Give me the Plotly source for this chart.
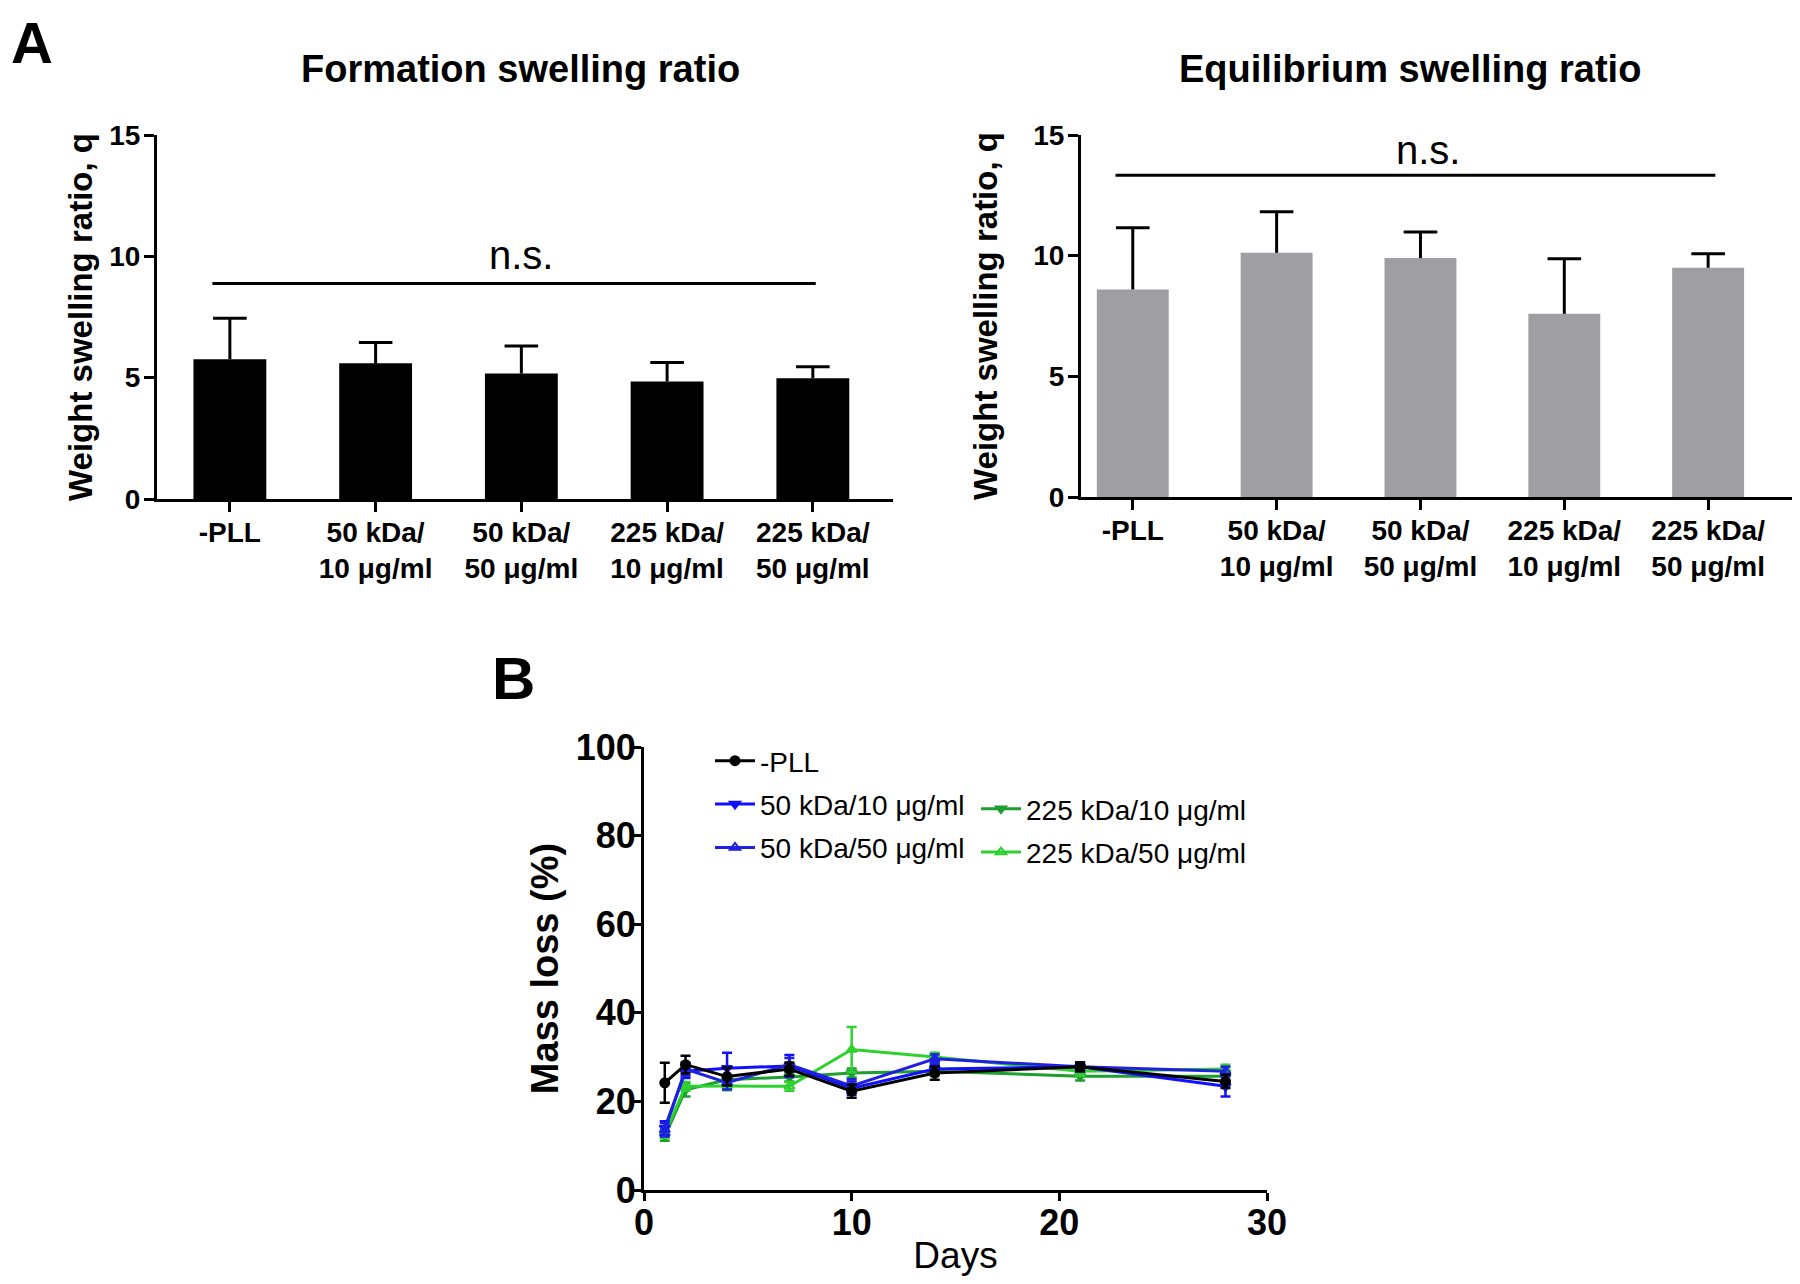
import plotly.graph_objects as go

# ---------------- data ----------------
categories = ["-PLL", "50 kDa/<br>10 μg/ml", "50 kDa/<br>50 μg/ml", "225 kDa/<br>10 μg/ml", "225 kDa/<br>50 μg/ml"]
formation_mean = [5.76, 5.59, 5.17, 4.84, 4.98]
formation_err = [1.69, 0.86, 1.13, 0.79, 0.47]
equilibrium_mean = [8.60, 10.12, 9.90, 7.59, 9.50]
equilibrium_err = [2.56, 1.70, 1.08, 2.28, 0.58]

days = [1, 2, 4, 7, 10, 14, 21, 28]
series_names = ["-PLL", "50 kDa/10 μg/ml", "50 kDa/50 μg/ml", "225 kDa/10 μg/ml", "225 kDa/50 μg/ml"]
mass_pll = [24.2, 28.3, 25.6, 27.3, 22.3, 26.4, 27.8, 24.5]
mass_50_10 = [14.0, 26.8, 27.5, 28.0, 23.0, 27.3, 27.8, 23.4]
mass_50_50 = [13.6, 27.3, 24.2, 28.3, 23.5, 29.6, 27.8, 26.8]
mass_225_10 = [12.1, 22.6, 24.9, 25.5, 26.4, 26.8, 25.7, 25.7]
mass_225_50 = [12.8, 23.4, 23.5, 23.4, 31.7, 30.0, 26.8, 27.3]
err_pll = [4.5, 2.0, 2.0, 1.5, 1.5, 1.5, 1.0, 1.5]
err_50_10 = [1.5, 1.5, 3.5, 2.5, 1.5, 1.0, 1.0, 2.3]
err_50_50 = [1.5, 1.5, 1.5, 1.5, 1.5, 1.0, 1.0, 1.0]
err_225_10 = [1.0, 1.5, 1.0, 1.0, 1.0, 1.0, 1.0, 1.0]
err_225_50 = [1.0, 1.0, 1.0, 1.0, 5.1, 1.0, 1.0, 1.0]

FONT = "Liberation Sans, Arial, sans-serif"
W, H = 1800, 1284
OFF = 8  # page body margin offset of the plot in the browser window


def px_x(p):
    return (p - OFF) / W


def px_y(p):
    return 1 - (p - OFF) / H


fig = go.Figure()


# ---------------- bar charts ----------------
def add_bar_panel(means, errs, color, xa, ya):
    fig.add_trace(go.Bar(
        x=categories, y=means, width=0.5,
        marker=dict(color=color, line=dict(width=0)),
        error_y=dict(type="data", array=errs, arrayminus=[0] * len(errs), symmetric=False,
                     color="#000000", thickness=3, width=0),
        xaxis=xa, yaxis=ya, showlegend=False, hoverinfo="y"))
    # caps of the (upper-only) error bars
    tops = [m + e for m, e in zip(means, errs)]
    fig.add_trace(go.Scatter(
        x=categories, y=tops, mode="markers",
        marker=dict(symbol="line-ew", size=24, color="#000", line=dict(color="#000", width=3)),
        xaxis=xa, yaxis=ya, showlegend=False, hoverinfo="skip"))


add_bar_panel(formation_mean, formation_err, "#000000", "x", "y")
add_bar_panel(equilibrium_mean, equilibrium_err, "#9e9ea3", "x2", "y2")

# ---------------- line chart ----------------
line_series = [
    (series_names[3], mass_225_10, err_225_10, "#1e9e2e", "triangle-down", 4, "legend2"),
    (series_names[4], mass_225_50, err_225_50, "#2ed12e", "triangle-up-open", 5, "legend2"),
    (series_names[1], mass_50_10, err_50_10, "#1010ff", "triangle-down", 2, "legend"),
    (series_names[2], mass_50_50, err_50_50, "#2020e0", "triangle-up-open", 3, "legend"),
    (series_names[0], mass_pll, err_pll, "#000000", "circle", 1, "legend"),
]
for name, vals, errs, col, sym, rank, lg in line_series:
    fig.add_trace(go.Scatter(
        x=days, y=vals, name=name, mode="lines+markers",
        line=dict(color=col, width=3),
        marker=dict(color=col, symbol=sym, size=9, line=dict(color=col, width=2)),
        error_y=dict(type="data", array=errs, color=col, thickness=2.5, width=5),
        xaxis="x3", yaxis="y3", legend=lg, legendrank=rank, legendgroup=name))

# ---------------- axes ----------------
line_common = dict(showline=True, linewidth=3, linecolor="#000", showgrid=False,
                   zeroline=False, mirror=False, ticks="outside", tickwidth=3, tickcolor="#000")

bar_x_font = dict(family=FONT, size=28, color="#000", weight="bold")
bar_y_font = dict(family=FONT, size=28, color="#000", weight="bold")
ytitle_font = dict(family=FONT, size=33, color="#000", weight="bold")

fig.update_layout(
    width=W, height=H,
    margin=dict(l=0, r=0, t=0, b=0, autoexpand=False),
    paper_bgcolor="#ffffff", plot_bgcolor="#ffffff",
    barmode="overlay",
    xaxis=dict(domain=[px_x(157), px_x(893)], anchor="y", range=[-0.5, 4.55],
               tickfont=bar_x_font, ticklen=10, ticklabelstandoff=-4, **line_common),
    yaxis=dict(domain=[px_y(499), px_y(135)], anchor="x", range=[0, 15],
               tickvals=[0, 5, 10, 15], tickfont=bar_y_font, ticklen=10, ticklabelstandoff=-2,
               title=dict(text="Weight swelling ratio, q", font=ytitle_font, standoff=7),
               **line_common),
    xaxis2=dict(domain=[px_x(1081), px_x(1793)], anchor="y2", range=[-0.36, 4.59],
                tickfont=bar_x_font, ticklen=10, ticklabelstandoff=-4, **line_common),
    yaxis2=dict(domain=[px_y(497), px_y(135)], anchor="x2", range=[0, 15],
                tickvals=[0, 5, 10, 15], tickfont=bar_y_font, ticklen=10, ticklabelstandoff=-2,
                title=dict(text="Weight swelling ratio, q", font=ytitle_font, standoff=26),
                **line_common),
    xaxis3=dict(domain=[px_x(644), px_x(1267)], anchor="y3", range=[0, 30],
                tickvals=[0, 10, 20, 30], ticklen=8, ticklabelstandoff=-9,
                tickfont=dict(family=FONT, size=36, color="#000", weight="bold"),
                title=dict(text="Days", font=dict(family=FONT, size=37, color="#000"), standoff=0),
                **line_common),
    yaxis3=dict(domain=[px_y(1190), px_y(747)], anchor="x3", range=[0, 100],
                tickvals=[0, 20, 40, 60, 80, 100], ticklen=8, ticklabelstandoff=-10,
                tickfont=dict(family=FONT, size=36, color="#000", weight="bold"),
                title=dict(text="Mass loss (%)", font=dict(family=FONT, size=38, color="#000", weight="bold"),
                           standoff=6),
                **line_common),
    legend=dict(x=px_x(710), y=px_y(736), xanchor="left", yanchor="top",
                font=dict(family=FONT, size=28, color="#000"), bgcolor="rgba(0,0,0,0)",
                tracegroupgap=4, itemwidth=40),
    legend2=dict(x=px_x(976), y=px_y(784), xanchor="left", yanchor="top",
                 font=dict(family=FONT, size=28, color="#000"), bgcolor="rgba(0,0,0,0)",
                 tracegroupgap=4, itemwidth=40),
)

# ---------------- annotations & brackets ----------------
fig.add_shape(type="line", xref="x", yref="y", x0=-0.12, x1=4.02, y0=8.88, y1=8.88,
              line=dict(color="#000", width=3))
fig.add_shape(type="line", xref="x2", yref="y2", x0=-0.12, x1=4.05, y0=13.33, y1=13.33,
              line=dict(color="#000", width=3))

annos = [
    dict(text="n.s.", xref="x", yref="y", x=2, y=10.05, yanchor="middle",
         font=dict(family=FONT, size=40, color="#000")),
    dict(text="n.s.", xref="x2", yref="y2", x=2.05, y=14.38, yanchor="middle",
         font=dict(family=FONT, size=40, color="#000")),
    dict(text="<b>Formation swelling ratio</b>", xref="paper", yref="paper", x=px_x(520), y=px_y(69),
         yanchor="middle", font=dict(family=FONT, size=38, color="#000")),
    dict(text="<b>Equilibrium swelling ratio</b>", xref="paper", yref="paper", x=px_x(1410), y=px_y(69),
         yanchor="middle", font=dict(family=FONT, size=38, color="#000")),
    dict(text="<b>A</b>", xref="paper", yref="paper", x=px_x(32), y=1, yanchor="top",
         font=dict(family=FONT, size=58, color="#000")),
    dict(text="<b>B</b>", xref="paper", yref="paper", x=px_x(513), y=px_y(678), yanchor="middle",
         font=dict(family=FONT, size=60, color="#000")),
]
for a in annos:
    fig.add_annotation(showarrow=False, xanchor="center", **a)

fig.write_html("out.html")
